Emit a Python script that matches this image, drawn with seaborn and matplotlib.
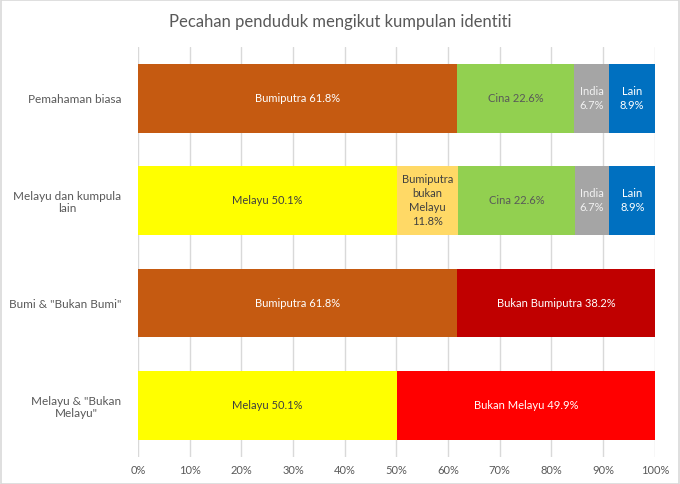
import matplotlib
matplotlib.use("Agg")
import matplotlib.pyplot as plt
import seaborn as sns
import pandas as pd
from matplotlib.patches import Rectangle

title = "Pecahan penduduk mengikut kumpulan identiti"
categories = ["Pemahaman biasa", "Melayu dan kumpula\nlain",
              'Bumi & "Bukan Bumi"', 'Melayu & "Bukan\nMelayu"']

row_labels = [
    ["Bumiputra", "Cina", "India", "Lain"],
    ["Melayu", "Bumiputra bukan Melayu", "Cina", "India", "Lain"],
    ["Bumiputra", "Bukan Bumiputra"],
    ["Melayu", "Bukan Melayu"],
]
row_values = [
    [61.8, 22.6, 6.7, 8.9],
    [50.1, 11.8, 22.6, 6.7, 8.9],
    [61.8, 38.2],
    [50.1, 49.9],
]
bar_text = [
    ["Bumiputra 61.8%", "Cina 22.6%", "India\n6.7%", "Lain\n8.9%"],
    ["Melayu 50.1%", "Bumiputra\nbukan\nMelayu\n11.8%", "Cina 22.6%", "India\n6.7%", "Lain\n8.9%"],
    ["Bumiputra 61.8%", "Bukan Bumiputra 38.2%"],
    ["Melayu 50.1%", "Bukan Melayu 49.9%"],
]
ticks = [0, 10, 20, 30, 40, 50, 60, 70, 80, 90, 100]

colors = {
    "Bumiputra": "#C55A11", "Cina": "#92D050", "India": "#A5A5A5", "Lain": "#0070C0",
    "Melayu": "#FFFF00", "Bumiputra bukan Melayu": "#FFD966",
    "Bukan Bumiputra": "#C00000", "Bukan Melayu": "#FF0000",
}
text_colors = {
    "Bumiputra": "white", "Cina": "#595959", "India": "#F2F2F2", "Lain": "white",
    "Melayu": "#404040", "Bumiputra bukan Melayu": "#404040",
    "Bukan Bumiputra": "white", "Bukan Melayu": "white",
}

rows = []
for cat, labs, vals, txts in zip(categories, row_labels, row_values, bar_text):
    start = 0.0
    for pos, (l, v, t) in enumerate(zip(labs, vals, txts)):
        rows.append(dict(cat=cat, label=l, value=v, start=start, end=start + v,
                         pos=pos, text=t))
        start += v
df = pd.DataFrame(rows)

sns.set_theme(style="white")
plt.rcParams["font.family"] = ["Lato", "DejaVu Sans"]

fig = plt.figure(figsize=(6.8, 4.84), dpi=100)
ax = fig.add_axes([0.203, 0.056, 0.760, 0.847])

for p in sorted(df["pos"].unique(), reverse=True):
    sub = df[df["pos"] == p]
    sns.barplot(data=sub, x="end", y="cat", hue="label", palette=colors,
                order=categories, dodge=False, legend=False, width=0.67,
                orient="h", ax=ax, linewidth=0, saturation=1, zorder=2)

ycat = {c: i for i, c in enumerate(categories)}
for _, r in df.iterrows():
    ax.text(r["start"] + r["value"] / 2, ycat[r["cat"]], r["text"],
            ha="center", va="center", fontsize=8, color=text_colors[r["label"]],
            linespacing=1.35, zorder=3)

ax.set_xlim(0, 100)
ax.set_ylim(len(categories) - 0.5, -0.5)
ax.set_xticks(ticks)
ax.set_xticklabels([f"{t}%" for t in ticks], fontsize=8, color="#595959")
ax.set_yticks(range(len(categories)))
ax.set_yticklabels(categories, fontsize=8.5, color="#595959", multialignment="center")
ax.tick_params(axis="y", length=0, pad=12)
ax.tick_params(axis="x", length=0, pad=6)
ax.set_xlabel("")
ax.set_ylabel("")
ax.grid(axis="x", color="#D9D9D9", linewidth=1, zorder=0)
ax.set_axisbelow(True)
for s in ax.spines.values():
    s.set_visible(False)

fig.text(0.5, 0.955, title, ha="center", va="center", fontsize=12, color="#595959")
fig.patches.append(Rectangle((0.001, 0.001), 0.998, 0.998, transform=fig.transFigure,
                             fill=False, edgecolor="#D9D9D9", linewidth=1.2))

fig.savefig("out.png", dpi=100)
